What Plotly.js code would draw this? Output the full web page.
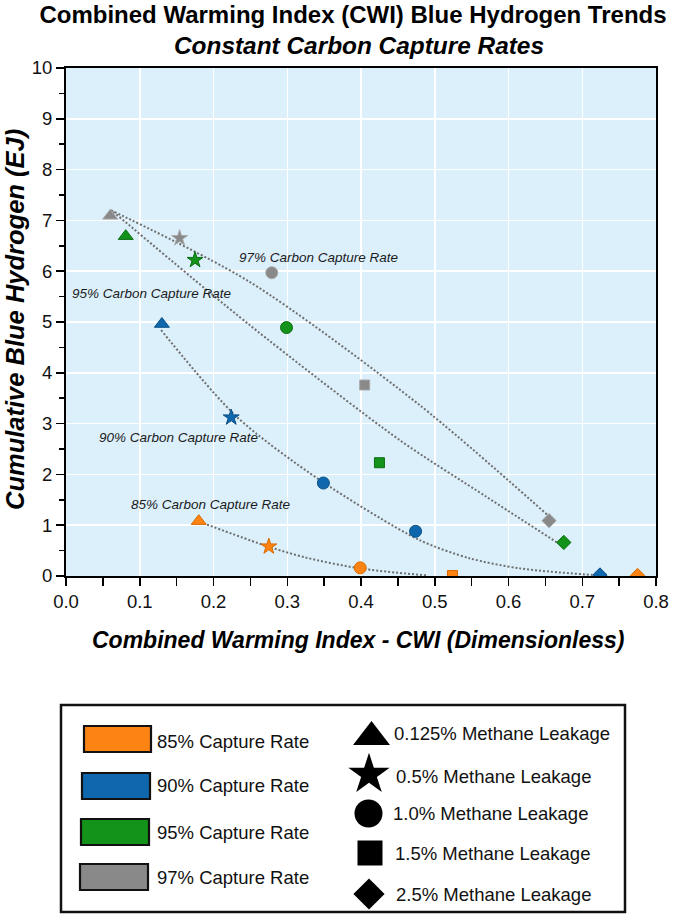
<!DOCTYPE html>
<html>
<head>
<meta charset="utf-8">
<script src="https://cdn.plot.ly/plotly-3.0.1.min.js"></script>
<style>
  html, body { margin: 0; padding: 0; background: #ffffff; }
  #chart { width: 676px; height: 914px; }
</style>
</head>
<body>
<div id="chart"></div>
<script>
// Scenario data: cumulative blue hydrogen (EJ) against the Combined Warming Index
const captureRates = ['85%', '90%', '95%', '97%'];
const leakageRates = ['0.125%', '0.5%', '1.0%', '1.5%', '2.5%'];

const cwi85 = [0.180, 0.275, 0.399, 0.524, 0.775];
const h2_85 = [1.08, 0.58, 0.16, 0.01, 0.01];
const cwi90 = [0.130, 0.224, 0.349, 0.474, 0.724];
const h2_90 = [4.96, 3.12, 1.83, 0.88, 0.02];
const cwi95 = [0.081, 0.175, 0.299, 0.425, 0.675];
const h2_95 = [6.69, 6.22, 4.89, 2.23, 0.66];
const cwi97 = [0.060, 0.154, 0.279, 0.405, 0.655];
const h2_97 = [7.09, 6.65, 5.97, 3.76, 1.09];

// Marker shape per methane-leakage scenario
const symbols85 = ['triangle-up', 'star', 'circle', 'square', 'diamond'];
const symbols90 = ['triangle-up', 'star', 'circle', 'circle', 'diamond'];
const symbols95 = ['triangle-up', 'star', 'circle', 'square', 'diamond'];
const symbols97 = ['triangle-up', 'star', 'circle', 'square', 'diamond'];

// Dotted trend curves for each constant capture rate
const trend85x = [0.186, 0.274, 0.326, 0.398, 0.490];
const trend85y = [1.04, 0.58, 0.36, 0.15, 0.01];
const trend90x = [0.129, 0.231, 0.344, 0.479, 0.547, 0.615, 0.714];
const trend90y = [4.84, 3.14, 1.89, 0.71, 0.35, 0.15, 0.02];
const trend95x = [0.064, 0.249, 0.452, 0.570, 0.669];
const trend95y = [7.17, 4.94, 2.68, 1.56, 0.63];
const trend97x = [0.061, 0.249, 0.479, 0.653];
const trend97y = [7.20, 5.79, 3.37, 1.20];

// Curve labels
const curveLabels = ['85% Carbon Capture Rate', '90% Carbon Capture Rate',
                     '95% Carbon Capture Rate', '97% Carbon Capture Rate'];
const curveLabelX = [0.086, 0.042, 0.005, 0.232];
const curveLabelY = [1.40, 2.72, 5.57, 6.26];

// Legend key
const legendSymbols = ['triangle-up', 'star', 'circle', 'square', 'diamond'];
const legendSymbolText = leakageRates.map(r => r + ' Methane Leakage');
const legendRateText = captureRates.map(r => r + ' Capture Rate');

const W = 676, H = 914;
const plotBox = { left: 66, right: 656, top: 68, bottom: 576 };

const colors = {
  '85%': '#fd8412',
  '90%': '#0f68ad',
  '95%': '#13931a',
  '97%': '#898989'
};
const edge = {
  '85%': '#d86a00',
  '90%': '#0a4f86',
  '95%': '#0d6e12',
  '97%': '#a8a8a8'
};

const FONT = 'Liberation Sans, Arial, Helvetica, sans-serif';

function trendTrace(x, y) {
  return {
    x: x, y: y, type: 'scatter', mode: 'lines',
    line: { color: '#6f6f6f', width: 2, dash: '2px,2px', shape: 'spline', smoothing: 0.8 },
    hoverinfo: 'skip', showlegend: false
  };
}

function pointTrace(rate, x, y, symbols) {
  const sizes = symbols.map(s => ({ 'triangle-up': 13, star: 12, circle: 12, square: 10, diamond: 11 }[s]));
  return {
    x: x, y: y, type: 'scatter', mode: 'markers',
    name: rate + ' Capture Rate',
    text: leakageRates.map(r => r + ' Methane Leakage'),
    marker: { color: colors[rate], symbol: symbols, size: sizes, opacity: 1,
              line: { color: edge[rate], width: 1 } },
    showlegend: false
  };
}

// Legend key layout (page pixel coordinates on the overlay axes)
const keyBox = { x0: 61, x1: 625, y0: 705, y1: 912 };
const swatchX0 = [84, 82, 81, 80];
const swatchX1 = [151, 150, 149, 148];
const swatchY0 = [726, 773, 819, 864];
const swatchY1 = [752, 799, 845, 890];
const rateTextX = 155;
const rateTextY = [741, 785, 832, 877];
const symX = [371.5, 369, 368.5, 370, 369];
const symY = [737, 774.5, 813.5, 853, 894];
const symSize = [32, 31, 28, 25, 24];
const symTextX = [392, 394, 391, 393, 394];
const symTextY = [733, 776, 813, 853, 894];

const traces = [
  trendTrace(trend97x, trend97y),
  trendTrace(trend95x, trend95y),
  trendTrace(trend90x, trend90y),
  trendTrace(trend85x, trend85y),
  pointTrace('97%', cwi97, h2_97, symbols97),
  pointTrace('95%', cwi95, h2_95, symbols95),
  pointTrace('90%', cwi90, h2_90, symbols90),
  pointTrace('85%', cwi85, h2_85, symbols85),
  {
    x: symX, y: symY, xaxis: 'x2', yaxis: 'y2',
    type: 'scatter', mode: 'markers',
    marker: { color: '#000000', symbol: legendSymbols, size: symSize, opacity: 1, line: { width: 0 } },
    hoverinfo: 'skip', showlegend: false, cliponaxis: false
  }
];

const shapes = [
  // plotting-area background
  { type: 'rect', xref: 'x domain', yref: 'y domain', x0: 0, x1: 1, y0: 0, y1: 1,
    fillcolor: '#dcf0fc', line: { width: 0 }, layer: 'below' },
  // key frame
  { type: 'rect', xref: 'x2', yref: 'y2', x0: keyBox.x0, x1: keyBox.x1, y0: keyBox.y0, y1: keyBox.y1,
    fillcolor: '#ffffff', line: { color: '#111111', width: 2.5 }, layer: 'below' }
];
captureRates.forEach((r, i) => {
  shapes.push({ type: 'rect', xref: 'x2', yref: 'y2',
    x0: swatchX0[i], x1: swatchX1[i], y0: swatchY0[i], y1: swatchY1[i],
    fillcolor: colors[r], line: { color: '#111111', width: 2.2 }, layer: 'below' });
});

const annotations = [];
curveLabels.forEach((t, i) => {
  annotations.push({ text: t, x: curveLabelX[i], y: curveLabelY[i], xref: 'x', yref: 'y',
    xanchor: 'left', yanchor: 'middle', showarrow: false,
    font: { family: FONT, size: 13.5, style: 'italic', color: '#1a1a1a' } });
});
legendRateText.forEach((t, i) => {
  annotations.push({ text: t, x: rateTextX, y: rateTextY[i], xref: 'x2', yref: 'y2',
    xanchor: 'left', yanchor: 'middle', showarrow: false,
    font: { family: FONT, size: 18.5, color: '#111111' } });
});
legendSymbolText.forEach((t, i) => {
  annotations.push({ text: t, x: symTextX[i], y: symTextY[i], xref: 'x2', yref: 'y2',
    xanchor: 'left', yanchor: 'middle', showarrow: false,
    font: { family: FONT, size: 18.5, color: '#111111' } });
});
// subtitle and axis titles
annotations.push({ text: 'Constant Carbon Capture Rates', x: 359, y: 45, xref: 'x2', yref: 'y2',
  xanchor: 'center', yanchor: 'middle', showarrow: false,
  font: { family: FONT, size: 24.4, weight: 'bold', style: 'italic', color: '#000000' } });
annotations.push({ text: 'Combined Warming Index - CWI (Dimensionless)', x: 358, y: 640, xref: 'x2', yref: 'y2',
  xanchor: 'center', yanchor: 'middle', showarrow: false,
  font: { family: FONT, size: 23, weight: 'bold', style: 'italic', color: '#000000' } });
annotations.push({ text: 'Cumulative Blue Hydrogen (EJ)', x: 15, y: 320, xref: 'x2', yref: 'y2',
  xanchor: 'center', yanchor: 'middle', showarrow: false, textangle: -90,
  font: { family: FONT, size: 25.5, weight: 'bold', style: 'italic', color: '#000000' } });

const axisCommon = {
  showline: true, linecolor: '#000000', linewidth: 2, mirror: true,
  ticks: 'outside', ticklen: 8, tickwidth: 1.5, tickcolor: '#000000',
  showgrid: true, gridcolor: '#ffffff', gridwidth: 1.5,
  zeroline: false, fixedrange: true,
  tickfont: { family: FONT, size: 18.5, color: '#111111' }
};

const layout = {
  width: W, height: H,
  margin: { l: 0, r: 0, t: 0, b: 0, pad: 0 },
  paper_bgcolor: '#ffffff',
  plot_bgcolor: 'rgba(0,0,0,0)',
  showlegend: false,
  title: {
    text: 'Combined Warming Index (CWI) Blue Hydrogen Trends',
    font: { family: FONT, size: 24, weight: 'bold', color: '#000000' },
    x: 353 / W, xanchor: 'center', xref: 'container',
    y: 1 - 15 / H, yanchor: 'middle', yref: 'container'
  },
  xaxis: Object.assign({}, axisCommon, {
    domain: [plotBox.left / W, plotBox.right / W],
    range: [0, 0.8], dtick: 0.1, tick0: 0, tickformat: '.1f', anchor: 'y',
    minor: { dtick: 0.05, ticks: 'outside', ticklen: 8, tickwidth: 1.5, tickcolor: '#000000', showgrid: false }
  }),
  yaxis: Object.assign({}, axisCommon, {
    domain: [(H - plotBox.bottom) / H, (H - plotBox.top) / H],
    range: [0, 10], dtick: 1, tick0: 0, anchor: 'x',
    minor: { dtick: 0.5, ticks: 'outside', ticklen: 5, tickwidth: 1.5, tickcolor: '#000000', showgrid: false }
  }),
  xaxis2: { domain: [0, 1], range: [0, W], visible: false, anchor: 'y2', fixedrange: true },
  yaxis2: { domain: [0, 1], range: [H, 0], visible: false, anchor: 'x2', fixedrange: true },
  shapes: shapes,
  annotations: annotations
};

Plotly.newPlot('chart', traces, layout, { displayModeBar: false, staticPlot: true });
</script>
</body>
</html>
